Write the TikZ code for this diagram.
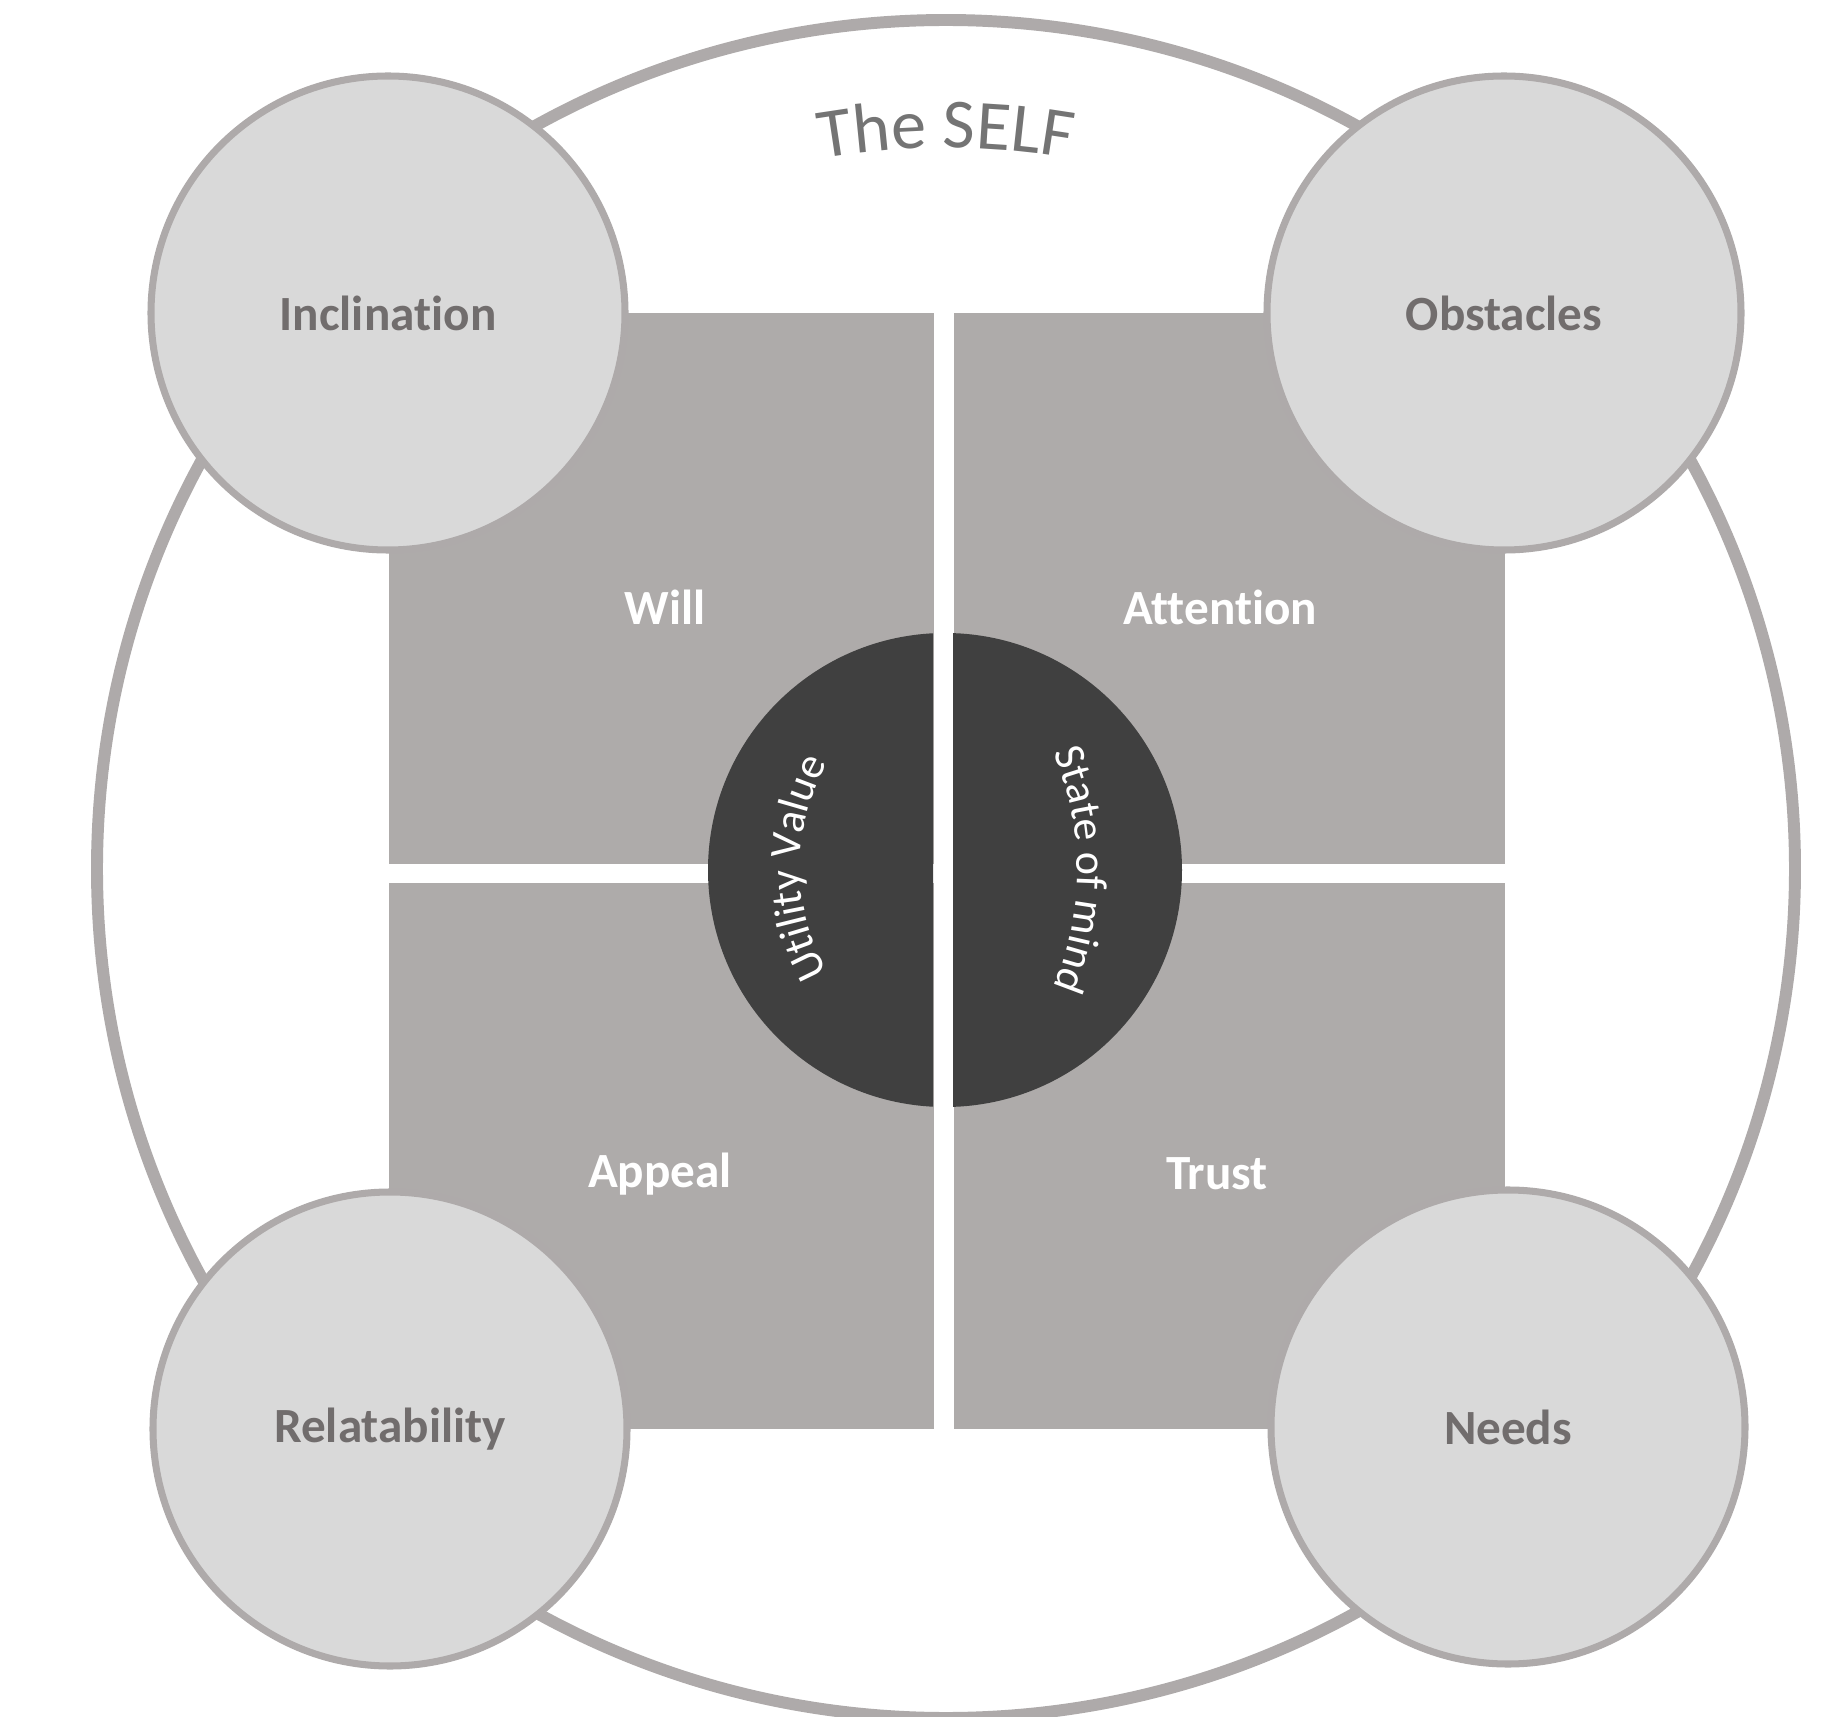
\documentclass[tikz,border=0pt]{standalone}
\usepackage{fontspec}
\setmainfont{Carlito}[RawFeature={-liga;-clig;-dlig;-calt}]
\usepackage{xcolor}
\usepackage{tikz}
\usetikzlibrary{decorations.text}
\definecolor{rim}{HTML}{AEAAAA}
\definecolor{quadgray}{HTML}{AEABAA}
\definecolor{coregray}{HTML}{404040}
\definecolor{ballgray}{HTML}{D9D9D9}
\definecolor{inkgray}{HTML}{716D6D}
\definecolor{titlegray}{HTML}{747474}
\tikzset{
  selfring/.style={circle, draw=rim, line width=3.4pt, fill=white, minimum size=169.8mm, inner sep=0pt},
  quad/.style={rectangle, fill=quadgray, draw=none, inner sep=0pt, anchor=south west},
  core/.style={circle, fill=coregray, minimum size=47.4mm, inner sep=0pt},
  ball/.style={circle, draw=rim, line width=2pt, fill=ballgray, minimum size=47.4mm, inner sep=0pt, font=\fontsize{14}{16}\selectfont\bfseries, text=inkgray},
  quadtext/.style={font=\fontsize{14}{16}\selectfont\bfseries, text=white, inner sep=0pt},
  arctext/.style={decorate, decoration={text along path, text align=center, text color=#1}}
}

\begin{document}
\begin{tikzpicture}
  \useasboundingbox (0,0) rectangle (18.26,17.16);

  % outer ring
  \node[selfring] (self) at (9.46,8.47) {};

  % four quadrants
  \node[quad, minimum width=54.5mm, minimum height=55.1mm] (willbox) at (3.88,8.51) {};
  \node[quad, minimum width=55.1mm, minimum height=55.1mm] (attnbox) at (9.53,8.51) {};
  \node[quad, minimum width=54.5mm, minimum height=54.6mm] (appealbox) at (3.88,2.86) {};
  \node[quad, minimum width=55.1mm, minimum height=54.6mm] (trustbox) at (9.53,2.86) {};

  % dark core, cut in two halves by the vertical gap
  \begin{scope}
    \clip (3,0) rectangle (9.33,17) (9.53,0) rectangle (16,17);
    \node[core] (core) at (9.45,8.46) {};
  \end{scope}

  % corner circles
  \node[ball] (incl) at (3.88,14.03) {Inclination};
  \node[ball] (obst) at (15.04,14.03) {Obstacles};
  \node[ball] (relat) at (3.90,2.87) {Relatability};
  \node[ball] (needs) at (15.08,2.89) {Needs};

  % quadrant labels
  \node[quadtext] (will) at (6.65,11.09) {Will};
  \node[quadtext] (attn) at (12.20,11.09) {Attention};
  \node[quadtext] (appeal) at (6.60,5.42) {Appeal};
  \node[quadtext] (trust) at (12.17,5.42) {Trust};

  % curved texts
  \path[arctext=titlegray, decoration={text={|\fontsize{20}{24}\selectfont|The SELF}}]
    (9.46,8.47) ++(115:7.21) arc[start angle=115, end angle=65, radius=7.21];
  \path[arctext=white, decoration={text={|\fontsize{12.5}{15}\selectfont|Utility Value}}]
    (10.10,8.48) ++(220:2.10) arc[start angle=220, end angle=140, radius=2.10];
  \path[arctext=white, decoration={text={|\fontsize{12.5}{15}\selectfont|State of mind}}]
    (7.75,8.46) ++(35:3.02) arc[start angle=35, end angle=-35, radius=3.02];
\end{tikzpicture}
\end{document}
